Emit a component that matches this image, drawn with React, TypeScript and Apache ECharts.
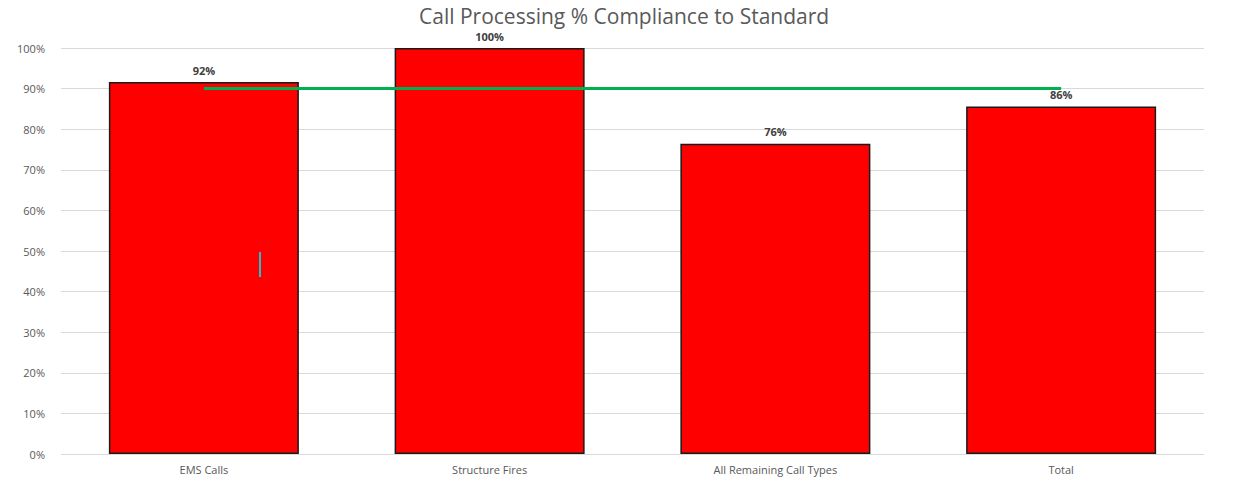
import React, { useEffect, useRef } from "react";
import * as echarts from "echarts";

const categories = ["EMS Calls", "Structure Fires", "All Remaining Call Types", "Total"];
const compliance = [91.6, 100, 76.4, 85.6];
const labels = ["92%", "100%", "76%", "86%"];
const standard = [90, 90, 90, 90];
const yTicks = [0, 10, 20, 30, 40, 50, 60, 70, 80, 90, 100];

export default function App() {
  const ref = useRef<HTMLDivElement>(null);
  useEffect(() => {
    if (!ref.current) return;
    const chart = echarts.init(ref.current, null, { renderer: "svg" });
    chart.setOption({
      animation: false,
      backgroundColor: "#ffffff",
      textStyle: { fontFamily: "Open Sans" },
      title: {
        text: "Call Processing % Compliance to Standard",
        left: 419,
        top: 5,
        padding: 0,
        textStyle: { fontFamily: "Open Sans", fontSize: 21, fontWeight: "normal", color: "#595959", lineHeight: 22 },
      },
      grid: { left: 61, right: 34, top: 48, bottom: 23, containLabel: false },
      xAxis: {
        type: "category",
        data: categories,
        axisLine: { show: false },
        axisTick: { show: false },
        axisLabel: { color: "#595959", fontSize: 11, margin: 10 },
      },
      yAxis: {
        type: "value",
        min: 0,
        max: 100,
        interval: 10,
        axisLine: { show: false },
        axisTick: { show: false },
        splitLine: { lineStyle: { color: "#d9d9d9", width: 1 } },
        axisLabel: {
          color: "#595959",
          fontSize: 11,
          margin: 16,
          formatter: (v: number) => (yTicks.includes(v) ? v + "%" : ""),
        },
      },
      series: [
        {
          type: "bar",
          data: compliance,
          barWidth: 190,
          itemStyle: { color: "#ff0000", borderColor: "#1a1a1a", borderWidth: 1.5 },
          label: {
            show: true,
            position: "top",
            distance: 6,
            fontSize: 11,
            lineHeight: 12,
            fontWeight: "bold",
            color: "#404040",
            formatter: (p: any) => labels[p.dataIndex],
          },
          z: 2,
        },
        {
          type: "line",
          data: standard,
          symbol: "none",
          lineStyle: { color: "#00b050", width: 3 },
          z: 3,
        },
      ],
      graphic: [
        {
          type: "rect",
          shape: { x: 259, y: 252, width: 2, height: 25 },
          style: { fill: "#19c3d0" },
          z: 10,
        },
      ],
    });
    return () => chart.dispose();
  }, []);
  return (
    <div
      ref={ref}
      style={{ position: "fixed", left: 0, top: 0, width: 1238, height: 477, background: "#fff" }}
    />
  );
}
